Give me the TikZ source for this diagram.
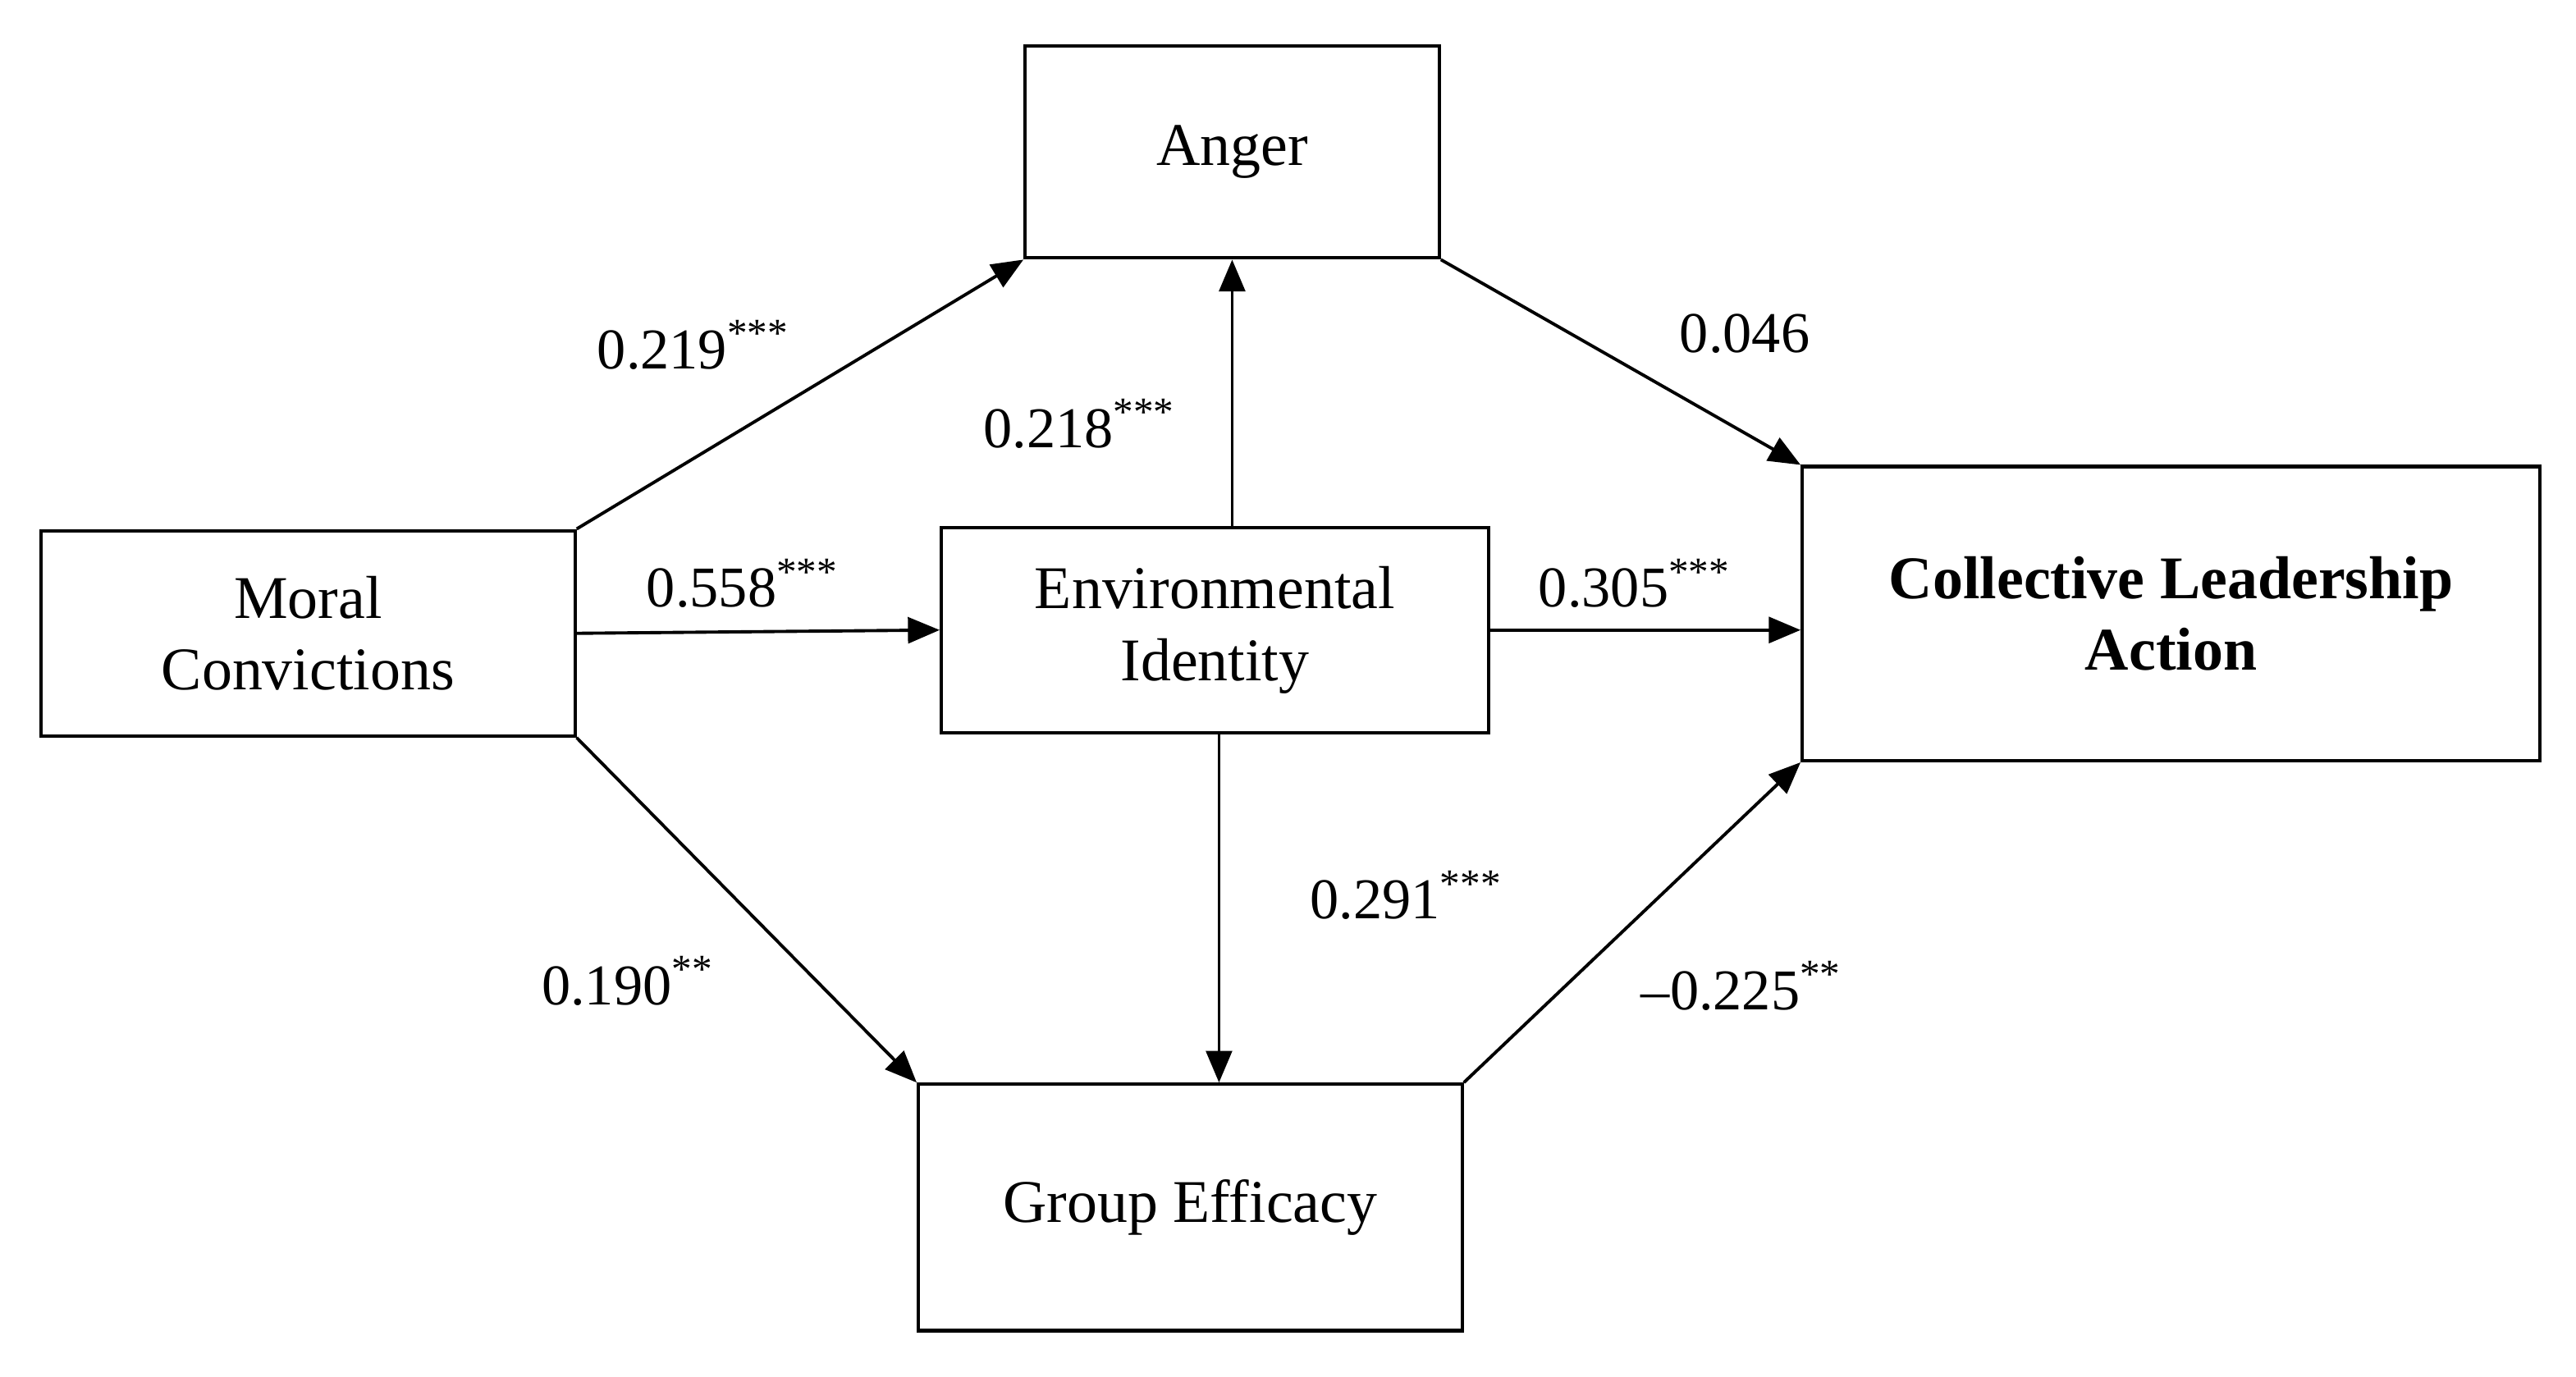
\documentclass[tikz,border=0pt]{standalone}
\usepackage{fontspec}
\setmainfont{Liberation Serif}
\usetikzlibrary{arrows.meta}
\begin{document}
\begin{tikzpicture}[x=0.02cm,y=-0.02cm,
  box/.style={draw,line width=1.2pt,align=center,inner sep=0pt,font=\fontsize{21}{25}\selectfont},
  lab/.style={font=\fontsize{20}{24}\selectfont},
  arr/.style={-{Triangle[length=11pt,width=9pt]},line width=1.1pt}]
\useasboundingbox (0,0) rectangle (1568,838);
\node[box,minimum width=252\pgflinewidth*0+5.04cm,minimum height=2.58cm] (anger) at (750,92.5) {Anger};
\node[box,minimum width=6.5cm,minimum height=2.5cm] (moral) at (187.5,385.5) {Moral\\Convictions};
\node[box,minimum width=6.66cm,minimum height=2.5cm] (env) at (739.5,383.5) {Environmental\\Identity};
\node[box,minimum width=8.98cm,minimum height=3.58cm,font=\fontsize{21}{25}\selectfont\bfseries] (cla) at (1321.5,373.5) {Collective Leadership\\Action};
\node[box,minimum width=6.62cm,minimum height=3cm] (ge) at (724.5,735) {Group Efficacy};
\draw[arr] (moral.north east) -- (anger.south west);
\draw[arr] (moral.east) -- (env.west);
\draw[arr] (moral.south east) -- (ge.north west);
\draw[arr] (env.north -| anger.south) -- (anger.south);
\draw[arr] (env.east) -- (cla.west |- env.east);
\draw[arr] (env.south -| 742,0) -- (ge.north -| 742,0);
\draw[arr] (anger.south east) -- (cla.north west);
\draw[arr] (ge.north east) -- (cla.south west);
\node[lab] (l1) at (422,210) {0.219\textsuperscript{***}};
\node[lab] (l2) at (452,355) {0.558\textsuperscript{***}};
\node[lab] (l3) at (382,597) {0.190\textsuperscript{**}};
\node[lab] (l4) at (657,258) {0.218\textsuperscript{***}};
\node[lab] (l5) at (995,355) {0.305\textsuperscript{***}};
\node[lab] (l6) at (856,545) {0.291\textsuperscript{***}};
\node[lab] (l7) at (1062,203) {0.046};
\node[lab] (l8) at (1060,600) {–0.225\textsuperscript{**}};
\end{tikzpicture}
\end{document}
